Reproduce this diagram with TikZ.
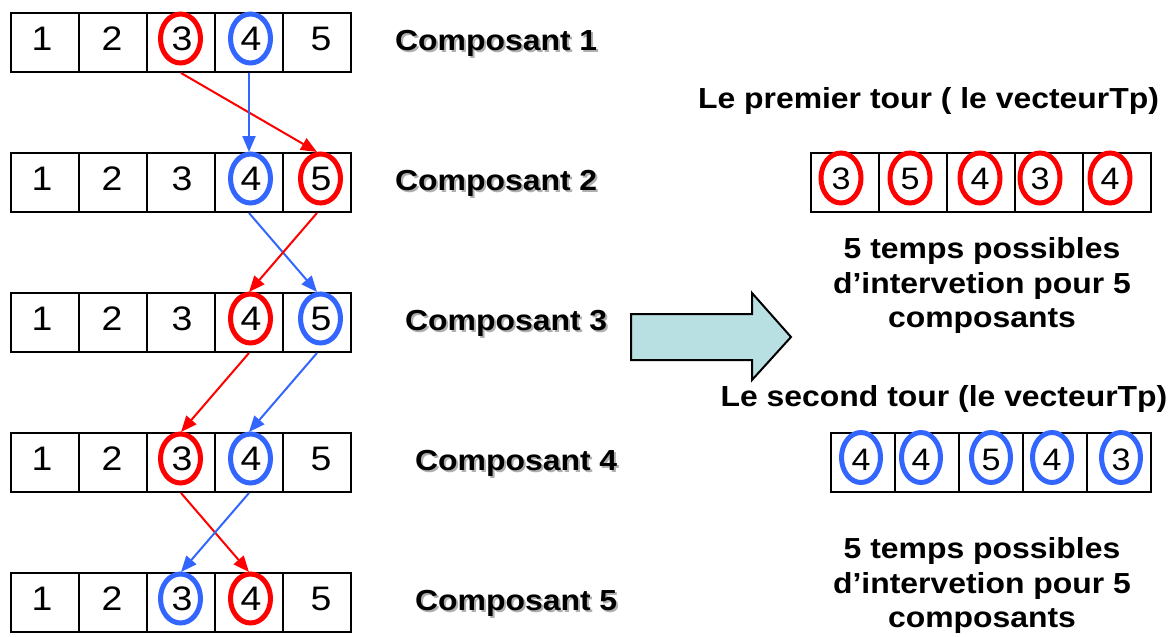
\documentclass[tikz,border=0pt]{standalone}
\usepackage{fontspec}
\setmainfont[FakeStretch=1.1]{Liberation Sans}
\usetikzlibrary{arrows.meta,shapes.geometric}
\definecolor{cred}{RGB}{255,0,0}
\definecolor{cblue}{RGB}{51,102,255}
\definecolor{arrowfill}{RGB}{184,223,226}
\definecolor{shade}{RGB}{175,175,175}
\tikzset{
  cell/.style={draw=black, line width=2pt, fill=white, minimum width=68pt,
    minimum height=59pt, inner sep=0pt},
  digit/.style={font=\fontsize{34}{40}\selectfont, anchor=base, inner sep=0pt},
  rdigit/.style={font=\fontsize{31}{36}\selectfont, anchor=base, inner sep=0pt},
  ring/.style={draw=#1, ellipse, line width=5pt, minimum width=40pt,
    minimum height=49pt, inner sep=0pt},
  conn/.style={-{Triangle[length=16pt,width=13pt]}, line width=2pt},
  complabel/.style={font=\bfseries\fontsize{29}{34}\selectfont, anchor=base west, inner sep=0pt},
  title/.style={font=\bfseries\fontsize{29}{34}\selectfont, anchor=base, inner sep=0pt},
}
\begin{document}
\begin{tikzpicture}[x=1pt,y=-1pt]
\useasboundingbox (0,0) rectangle (1176,637);

% five component vectors
\foreach \r in {1,...,5}{
  \pgfmathsetmacro\cy{42.5+140*(\r-1)}
  \foreach \c/\dx in {1/42,2/112,3/182,4/251,5/321}{
    \node[cell] (r\r c\c) at ({45+68*(\c-1)},\cy) {};
    \node[digit] (d\r c\c) at (\dx,{\cy+7.5}) {\c};
  }
}

% transfers between consecutive vectors
\draw[conn, cred]  (r1c3.south) -- (r2c5.north);
\draw[conn, cblue] (r1c4.south) -- (r2c4.north);
\draw[conn, cblue] (r2c4.south) -- (r3c5.north);
\draw[conn, cred]  (r2c5.south) -- (r3c4.north);
\draw[conn, cred]  (r3c4.south) -- (r4c3.north);
\draw[conn, cblue] (r3c5.south) -- (r4c4.north);
\draw[conn, cred]  (r4c3.south) -- (r5c4.north);
\draw[conn, cblue] (r4c4.south) -- (r5c3.north);

% highlighted entries
\node[ring=cred]  (e1a) at (180.5,38.5) {};
\node[ring=cblue] (e1b) at (250.5,38.5) {};
\node[ring=cblue] (e2a) at (250.5,178.5) {};
\node[ring=cred]  (e2b) at (320.5,178.5) {};
\node[ring=cred]  (e3a) at (250.5,318.5) {};
\node[ring=cblue] (e3b) at (320.5,318.5) {};
\node[ring=cred]  (e4a) at (180.5,458.5) {};
\node[ring=cblue] (e4b) at (250.5,458.5) {};
\node[ring=cblue] (e5a) at (180.5,598.5) {};
\node[ring=cred]  (e5b) at (250.5,598.5) {};

% component labels with drop shadow
\foreach \r/\lx in {1/395,2/395,3/405,4/415,5/415}{
  \pgfmathsetmacro\by{50+140*(\r-1)}
  \node[complabel, text=shade] (s\r) at ({\lx+2},{\by+2}) {Composant \r};
  \node[complabel] (l\r) at (\lx,\by) {Composant \r};
}

% block arrow
\draw[line width=2pt, fill=arrowfill, line join=miter]
  (631,314) -- (752,314) -- (752,293) -- (791,337) -- (752,380) -- (752,360)
  -- (631,360) -- cycle;

% first round vector
\node[title] (t1) at (928.5,108) {Le premier tour ( le vecteurTp)};
\foreach \k/\ex/\v in {0/841/3,1/910/5,2/980/4,3/1040/3,4/1110/4}{
  \node[cell] (t\k) at ({845+68*\k},182.5) {};
  \node[rdigit] (td\k) at (\ex,189) {\v};
  \node[ring=cred, minimum width=40pt, minimum height=50pt] (te\k) at (\ex,178) {};
}
\node[title] (p1a) at (982,258) {5 temps possibles};
\node[title] (p1b) at (982,293) {d’intervetion pour 5};
\node[title] (p1c) at (982,327) {composants};

% second round vector
\node[title] (t2) at (944,406) {Le second tour (le vecteurTp)};
\foreach \k/\ex/\v in {0/861/4,1/921/4,2/991/5,3/1052/4,4/1121/3}{
  \node[cell, minimum width=64pt] (b\k) at ({863+64*\k},462.5) {};
  \node[rdigit] (bd\k) at (\ex,470) {\v};
  \node[ring=cblue, minimum width=39pt, minimum height=50pt] (be\k) at (\ex,457.5) {};
}
\node[title] (p2a) at (982,558) {5 temps possibles};
\node[title] (p2b) at (982,593) {d’intervetion pour 5};
\node[title] (p2c) at (982,627) {composants};
\end{tikzpicture}
\end{document}
